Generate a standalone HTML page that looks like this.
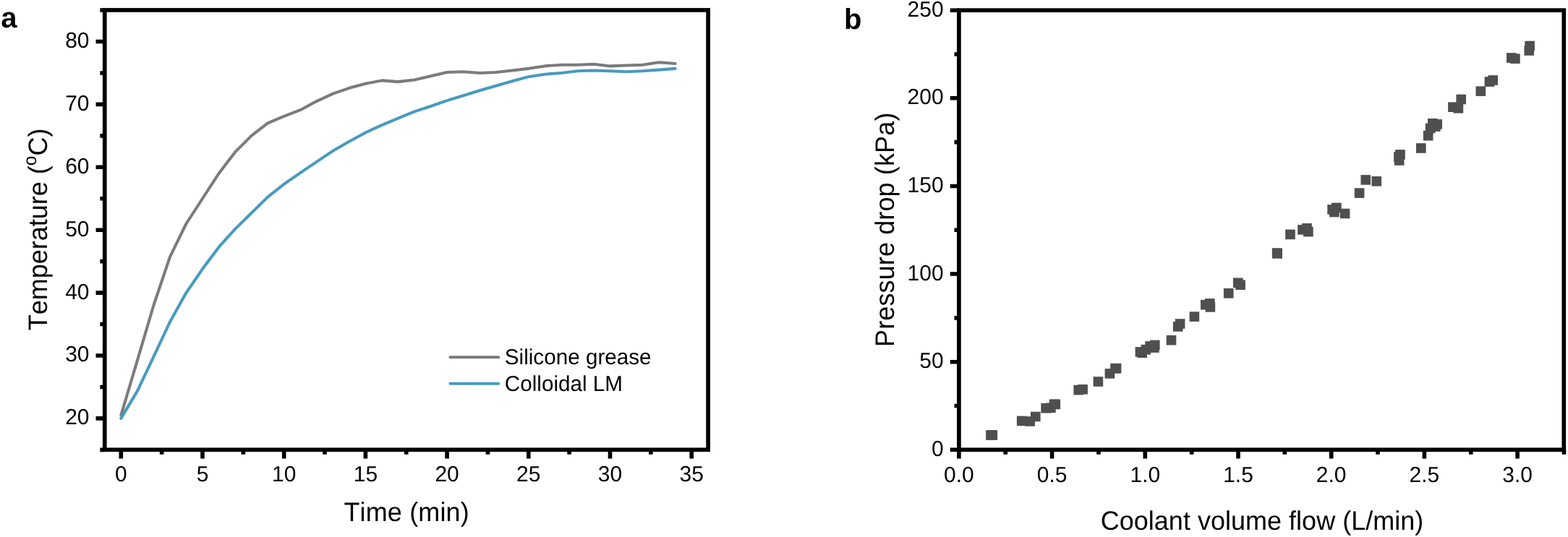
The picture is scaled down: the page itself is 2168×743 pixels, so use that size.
<!DOCTYPE html>
<html lang="en"><head><meta charset="utf-8">
<title>Temperature rise and pressure drop</title>
<style>
html,body{margin:0;padding:0;background:#fff;}
body{width:2168px;height:743px;overflow:hidden;}
svg{display:block;}
text{font-family:"Liberation Sans", Arial, Helvetica, sans-serif;fill:#000;font-kerning:none;text-rendering:geometricPrecision;}
.tk{font-size:30px;}
.lg{font-size:30px;}
.ti{font-size:36px;}
.pl{font-size:40px;font-weight:bold;}
.ax{stroke:#000;stroke-width:5.7;fill:none;stroke-linecap:butt;}
.tc{stroke:#000;stroke-width:5.6;fill:none;stroke-linecap:butt;}
.m{fill:#4f4f4f;}
</style></head><body>
<svg width="2168" height="743" viewBox="0 0 2168 743">
<rect x="0" y="0" width="2168" height="743" fill="#ffffff"/>
<g id="panel-a">
<text class="pl" x="1.2" y="38">a</text>
<polyline points="167.3,574.55 189.84,498.95 212.38,422.48 234.92,355.57 257.46,309.51 280,274.75 302.54,239.99 325.08,210.44 347.62,187.85 370.16,170.47 392.7,160.91 415.24,152.22 437.78,140.06 460.32,129.63 482.86,121.81 505.4,115.72 527.94,111.38 550.48,113.12 573.02,110.51 595.56,105.3 618.1,100.08 640.64,99.21 663.18,100.95 685.72,100.08 708.26,97.47 730.8,94.87 753.34,91.39 775.88,89.65 798.42,89.65 820.96,88.78 843.5,91.39 866.04,90.52 888.58,89.65 911.12,86.18 933.66,87.92" fill="none" stroke="#7b7b7b" stroke-width="4.05" stroke-linejoin="round" stroke-linecap="round"/>
<polyline points="167.3,578.9 189.84,541.1 212.38,493.74 234.92,445.51 257.46,405.1 280,372.08 302.54,341.92 325.08,316.9 347.62,294.74 370.16,272.58 392.7,254.76 415.24,239.12 437.78,223.91 460.32,208.71 482.86,195.67 505.4,183.5 527.94,173.08 550.48,163.52 573.02,154.39 595.56,147.01 618.1,139.19 640.64,132.23 663.18,125.28 685.72,118.76 708.26,112.25 730.8,106.16 753.34,102.69 775.88,100.95 798.42,98.34 820.96,97.47 843.5,98.34 866.04,99.21 888.58,98.34 911.12,96.61 933.66,94.87" fill="none" stroke="#489abe" stroke-width="4.05" stroke-linejoin="round" stroke-linecap="round"/>
<rect class="ax" x="144.75" y="13.95" width="834.35" height="608.35"/>
<path class="tc" d="M167.3 622.3 V634.5 M280 622.3 V634.5 M392.7 622.3 V634.5 M505.4 622.3 V634.5 M618.1 622.3 V634.5 M730.8 622.3 V634.5 M843.5 622.3 V634.5 M956.2 622.3 V634.5 M223.65 622.3 V628.7 M336.35 622.3 V628.7 M449.05 622.3 V628.7 M561.75 622.3 V628.7 M674.45 622.3 V628.7 M787.15 622.3 V628.7 M899.85 622.3 V628.7 M144.75 578.9 H132.55 M144.75 492 H132.55 M144.75 405.1 H132.55 M144.75 318.2 H132.55 M144.75 231.3 H132.55 M144.75 144.4 H132.55 M144.75 57.5 H132.55 M144.75 622.35 H138.35 M144.75 535.45 H138.35 M144.75 448.55 H138.35 M144.75 361.65 H138.35 M144.75 274.75 H138.35 M144.75 187.85 H138.35 M144.75 100.95 H138.35 M144.75 14.05 H138.35"/>
<text class="tk" text-anchor="middle" transform="translate(167.3 666.2) scale(1 1.012)">0</text>
<text class="tk" text-anchor="middle" transform="translate(280 666.2) scale(1 1.012)">5</text>
<text class="tk" text-anchor="middle" transform="translate(392.7 666.2) scale(1 1.012)">10</text>
<text class="tk" text-anchor="middle" transform="translate(505.4 666.2) scale(1 1.012)">15</text>
<text class="tk" text-anchor="middle" transform="translate(618.1 666.2) scale(1 1.012)">20</text>
<text class="tk" text-anchor="middle" transform="translate(730.8 666.2) scale(1 1.012)">25</text>
<text class="tk" text-anchor="middle" transform="translate(843.5 666.2) scale(1 1.012)">30</text>
<text class="tk" text-anchor="middle" transform="translate(956.2 666.2) scale(1 1.012)">35</text>
<text class="tk" text-anchor="end" transform="translate(123.5 587.3) scale(1 1.012)">20</text>
<text class="tk" text-anchor="end" transform="translate(123.5 500.4) scale(1 1.012)">30</text>
<text class="tk" text-anchor="end" transform="translate(123.5 413.5) scale(1 1.012)">40</text>
<text class="tk" text-anchor="end" transform="translate(123.5 326.6) scale(1 1.012)">50</text>
<text class="tk" text-anchor="end" transform="translate(123.5 239.7) scale(1 1.012)">60</text>
<text class="tk" text-anchor="end" transform="translate(123.5 152.8) scale(1 1.012)">70</text>
<text class="tk" text-anchor="end" transform="translate(123.5 65.9) scale(1 1.012)">80</text>
<text class="ti" text-anchor="middle" transform="translate(562.1 721.2) scale(1 1.025)" textLength="173.4" lengthAdjust="spacing">Time (min)</text>
<text class="ti" text-anchor="middle" transform="translate(65.1 317.4) rotate(-90) scale(1 1.025)">Temperature (<tspan style="font-size:24.5px" dy="-14.5">o</tspan><tspan dy="14.5">C)</tspan></text>
<path d="M622.5 494.2 H689.3" stroke="#7b7b7b" stroke-width="4.1" stroke-linecap="round" fill="none"/>
<path d="M622.5 530.7 H689.3" stroke="#489abe" stroke-width="4.1" stroke-linecap="round" fill="none"/>
<text class="lg" x="697.8" y="504" textLength="202.8" lengthAdjust="spacingAndGlyphs">Silicone grease</text>
<text class="lg" x="697.8" y="540.6" textLength="163.2" lengthAdjust="spacingAndGlyphs">Colloidal LM</text>
</g>
<g id="panel-b">
<text class="pl" x="1167" y="40">b</text>
<rect class="m" x="1363.1" y="595.2" width="13.6" height="13.6"/>
<rect class="m" x="1365.5" y="595.2" width="13.6" height="13.6"/>
<rect class="m" x="1405.9" y="575.6" width="13.6" height="13.6"/>
<rect class="m" x="1417.4" y="576.2" width="13.6" height="13.6"/>
<rect class="m" x="1425" y="569.7" width="13.6" height="13.6"/>
<rect class="m" x="1439.3" y="557.9" width="13.6" height="13.6"/>
<rect class="m" x="1446.1" y="557.5" width="13.6" height="13.6"/>
<rect class="m" x="1450.7" y="552.6" width="13.6" height="13.6"/>
<rect class="m" x="1452.5" y="552.6" width="13.6" height="13.6"/>
<rect class="m" x="1484.4" y="532.8" width="13.6" height="13.6"/>
<rect class="m" x="1490.3" y="532" width="13.6" height="13.6"/>
<rect class="m" x="1511.6" y="521.2" width="13.6" height="13.6"/>
<rect class="m" x="1527.6" y="510.1" width="13.6" height="13.6"/>
<rect class="m" x="1535.2" y="502.9" width="13.6" height="13.6"/>
<rect class="m" x="1536.8" y="502.9" width="13.6" height="13.6"/>
<rect class="m" x="1569.6" y="480.1" width="13.6" height="13.6"/>
<rect class="m" x="1572.4" y="481.4" width="13.6" height="13.6"/>
<rect class="m" x="1577.6" y="476.9" width="13.6" height="13.6"/>
<rect class="m" x="1583.3" y="472.2" width="13.6" height="13.6"/>
<rect class="m" x="1590" y="470.6" width="13.6" height="13.6"/>
<rect class="m" x="1589.1" y="474.3" width="13.6" height="13.6"/>
<rect class="m" x="1612.7" y="463.9" width="13.6" height="13.6"/>
<rect class="m" x="1621.9" y="445.1" width="13.6" height="13.6"/>
<rect class="m" x="1624.8" y="441.2" width="13.6" height="13.6"/>
<rect class="m" x="1644.6" y="431.3" width="13.6" height="13.6"/>
<rect class="m" x="1660" y="414.9" width="13.6" height="13.6"/>
<rect class="m" x="1666" y="413.1" width="13.6" height="13.6"/>
<rect class="m" x="1666.6" y="418.1" width="13.6" height="13.6"/>
<rect class="m" x="1691.9" y="399" width="13.6" height="13.6"/>
<rect class="m" x="1705" y="384.5" width="13.6" height="13.6"/>
<rect class="m" x="1708.3" y="387.4" width="13.6" height="13.6"/>
<rect class="m" x="1758.8" y="343.2" width="13.6" height="13.6"/>
<rect class="m" x="1759.4" y="344.1" width="13.6" height="13.6"/>
<rect class="m" x="1777.2" y="317.6" width="13.6" height="13.6"/>
<rect class="m" x="1794.2" y="311.1" width="13.6" height="13.6"/>
<rect class="m" x="1800.2" y="309" width="13.6" height="13.6"/>
<rect class="m" x="1802.1" y="313.8" width="13.6" height="13.6"/>
<rect class="m" x="1835.3" y="283.1" width="13.6" height="13.6"/>
<rect class="m" x="1841.1" y="280.6" width="13.6" height="13.6"/>
<rect class="m" x="1838.1" y="286.7" width="13.6" height="13.6"/>
<rect class="m" x="1852.8" y="288.7" width="13.6" height="13.6"/>
<rect class="m" x="1872.8" y="260.3" width="13.6" height="13.6"/>
<rect class="m" x="1881.5" y="242.1" width="13.6" height="13.6"/>
<rect class="m" x="1896.5" y="244" width="13.6" height="13.6"/>
<rect class="m" x="1929.2" y="207.1" width="13.6" height="13.6"/>
<rect class="m" x="1927.1" y="210.3" width="13.6" height="13.6"/>
<rect class="m" x="1927.9" y="215.2" width="13.6" height="13.6"/>
<rect class="m" x="1958" y="198.2" width="13.6" height="13.6"/>
<rect class="m" x="1967.9" y="180.9" width="13.6" height="13.6"/>
<rect class="m" x="1970.8" y="170.7" width="13.6" height="13.6"/>
<rect class="m" x="1974" y="164" width="13.6" height="13.6"/>
<rect class="m" x="1980.4" y="165.1" width="13.6" height="13.6"/>
<rect class="m" x="1978" y="168.3" width="13.6" height="13.6"/>
<rect class="m" x="2002.1" y="141.4" width="13.6" height="13.6"/>
<rect class="m" x="2009.6" y="143" width="13.6" height="13.6"/>
<rect class="m" x="2013.4" y="130.7" width="13.6" height="13.6"/>
<rect class="m" x="2040.5" y="119.4" width="13.6" height="13.6"/>
<rect class="m" x="2052.6" y="106.3" width="13.6" height="13.6"/>
<rect class="m" x="2057.4" y="104.2" width="13.6" height="13.6"/>
<rect class="m" x="2083" y="73.2" width="13.6" height="13.6"/>
<rect class="m" x="2088.1" y="74.4" width="13.6" height="13.6"/>
<rect class="m" x="2108.3" y="56.7" width="13.6" height="13.6"/>
<rect class="m" x="2107.4" y="63.2" width="13.6" height="13.6"/>
<rect class="ax" x="1325.9" y="14.2" width="836.4" height="608.1"/>
<path class="tc" d="M1325.9 622.3 V634.5 M1454.6 622.3 V634.5 M1583.3 622.3 V634.5 M1712 622.3 V634.5 M1840.7 622.3 V634.5 M1969.4 622.3 V634.5 M2098.1 622.3 V634.5 M1390.25 622.3 V628.7 M1518.95 622.3 V628.7 M1647.65 622.3 V628.7 M1776.35 622.3 V628.7 M1905.05 622.3 V628.7 M2033.75 622.3 V628.7 M2162.45 622.3 V628.7 M1325.9 622.3 H1313.7 M1325.9 500.68 H1313.7 M1325.9 379.06 H1313.7 M1325.9 257.44 H1313.7 M1325.9 135.82 H1313.7 M1325.9 14.2 H1313.7 M1325.9 561.49 H1319.5 M1325.9 439.87 H1319.5 M1325.9 318.25 H1319.5 M1325.9 196.63 H1319.5 M1325.9 75.01 H1319.5"/>
<text class="tk" text-anchor="middle" transform="translate(1325.9 666.6) scale(1 1.012)">0.0</text>
<text class="tk" text-anchor="middle" transform="translate(1454.6 666.6) scale(1 1.012)">0.5</text>
<text class="tk" text-anchor="middle" transform="translate(1583.3 666.6) scale(1 1.012)">1.0</text>
<text class="tk" text-anchor="middle" transform="translate(1712 666.6) scale(1 1.012)">1.5</text>
<text class="tk" text-anchor="middle" transform="translate(1840.7 666.6) scale(1 1.012)">2.0</text>
<text class="tk" text-anchor="middle" transform="translate(1969.4 666.6) scale(1 1.012)">2.5</text>
<text class="tk" text-anchor="middle" transform="translate(2098.1 666.6) scale(1 1.012)">3.0</text>
<text class="tk" text-anchor="end" transform="translate(1304.6 630.9) scale(1 1.012)">0</text>
<text class="tk" text-anchor="end" transform="translate(1304.6 509.28) scale(1 1.012)">50</text>
<text class="tk" text-anchor="end" transform="translate(1304.6 387.66) scale(1 1.012)">100</text>
<text class="tk" text-anchor="end" transform="translate(1304.6 266.04) scale(1 1.012)">150</text>
<text class="tk" text-anchor="end" transform="translate(1304.6 144.42) scale(1 1.012)">200</text>
<text class="tk" text-anchor="end" transform="translate(1304.6 22.8) scale(1 1.012)">250</text>
<text class="ti" text-anchor="middle" transform="translate(1745 732.6) scale(1 1.025)" textLength="446.6" lengthAdjust="spacing">Coolant volume flow (L/min)</text>
<text class="ti" text-anchor="middle" transform="translate(1236 317.8) rotate(-90) scale(1 1.025)" textLength="324.4" lengthAdjust="spacing">Pressure drop (kPa)</text>
</g>
</svg>
</body></html>
